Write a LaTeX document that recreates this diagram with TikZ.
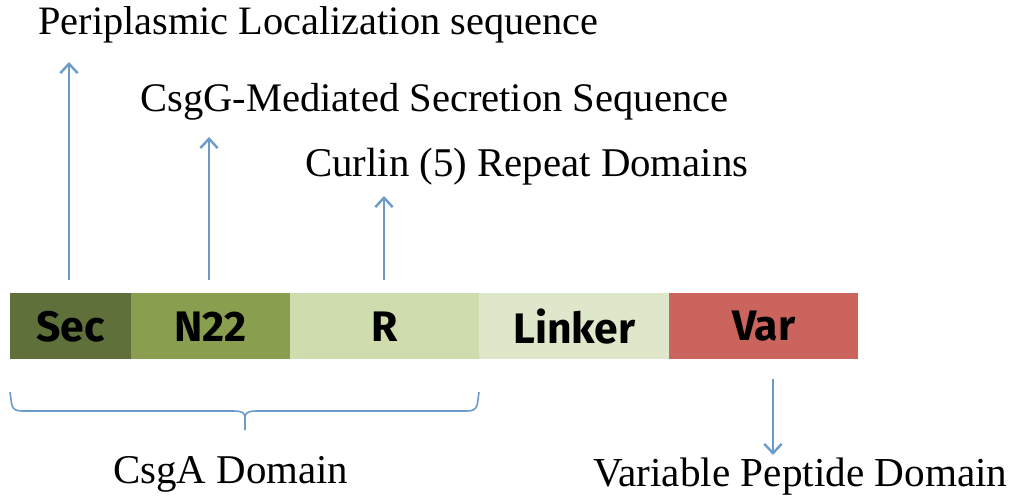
\documentclass[tikz,border=0pt]{standalone}
\usepackage{fontspec}
\setmainfont{Liberation Serif}
\newfontfamily\barfont{Fira Sans}[UprightFont=* Bold]
\usetikzlibrary{arrows.meta}
\definecolor{secC}{RGB}{95,112,58}
\definecolor{nC}{RGB}{138,158,80}
\definecolor{rC}{RGB}{207,220,174}
\definecolor{lC}{RGB}{222,231,202}
\definecolor{vC}{RGB}{204,100,94}
\definecolor{arC}{RGB}{106,155,203}
\newcommand{\fitw}[2]{\resizebox{#1}{!}{#2}}
\begin{document}
\begin{tikzpicture}[x=0.75pt,y=-0.75pt,
  seg/.style={draw=none,minimum height=49.5pt,inner sep=0pt,anchor=north west,font=\barfont\fontsize{32}{32}\selectfont},
  lbl/.style={inner sep=0pt,anchor=west},
  arr/.style={draw=arC,line width=1.6pt,-{Straight Barb[length=7pt,width=13pt,line width=1.8pt]}},
  brace/.style={draw=arC,line width=1.2pt}]
\useasboundingbox (0,0) rectangle (1013,499);
\node[seg,fill=secC,minimum width=90.75pt] (sec) at (10,293) {Sec};
\node[seg,fill=nC,minimum width=119.25pt] (n22) at (131,293) {N22};
\node[seg,fill=rC,minimum width=141.75pt] (r) at (290,293) {R};
\node[seg,fill=lC,minimum width=142.5pt] (lnk) at (479,293) {Linker};
\node[seg,fill=vC,minimum width=141.75pt] (var) at (669,293) {Var};

\node[lbl] (t1) at (38,25) {\fitw{420pt}{Periplasmic Localization sequence}};
\node[lbl] (t2) at (140,102) {\fitw{441pt}{CsgG-Mediated Secretion Sequence}};
\node[lbl] (t3) at (305,167) {\fitw{332.25pt}{Curlin (5) Repeat Domains}};
\node[lbl] (t4) at (113,474) {\fitw{176.25pt}{CsgA Domain}};
\node[lbl] (t5) at (593,477) {\fitw{310.5pt}{Variable Peptide Domain}};

\coordinate (a1) at (69,62);
\coordinate (a2) at (209,137);
\coordinate (a3) at (384,196);
\coordinate (a4) at (773,455);
\draw[arr] (sec.north -| a1) ++(0,-13) -- (a1);
\draw[arr] (n22.north -| a2) ++(0,-13) -- (a2);
\draw[arr] (r.north -| a3) ++(0,-13) -- (a3);
\draw[arr] (var.south -| a4) ++(0,19) -- (a4);

\coordinate (bL) at (10,392);
\coordinate (bR) at (479,392);
\coordinate (bM) at (245,430);
\draw[brace] (bL) .. controls (12,404) and (10,411) .. (22,411)
  -- (233,411) .. controls (243,411) and (245,413) .. (245,418) -- (bM);
\draw[brace] (bR) .. controls (477,404) and (479,411) .. (467,411)
  -- (257,411) .. controls (247,411) and (245,413) .. (245,418);
\end{tikzpicture}
\end{document}
